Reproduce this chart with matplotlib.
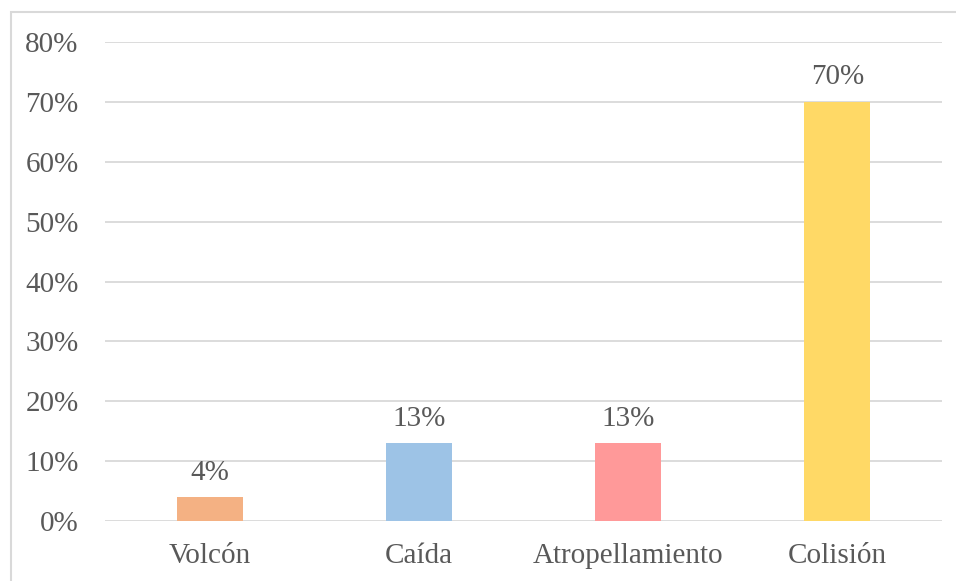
import matplotlib.pyplot as plt
from matplotlib.patches import Rectangle
from matplotlib.ticker import FuncFormatter

categories = ['Volcón', 'Caída', 'Atropellamiento', 'Colisión']
values = [4, 13, 13, 70]
labels = ['4%', '13%', '13%', '70%']
colors = ['#F4B183', '#9DC3E6', '#FF9999', '#FFD966']

plt.rcParams['font.family'] = ['Liberation Serif', 'DejaVu Serif']
text_color = '#595959'

fig = plt.figure(figsize=(9.56, 5.81), dpi=100)
ax = fig.add_axes([105 / 956, 60 / 581, 837 / 956, 479 / 581])

# Outer chart border (cut off at right and bottom)
fig.patches.append(Rectangle((11 / 956, -0.05), 1.2, (581 - 12) / 581 + 0.05,
                             transform=fig.transFigure, fill=False,
                             edgecolor='#d9d9d9', linewidth=1.5))

x = range(len(categories))
ax.bar(x, values, width=0.316, color=colors, zorder=3)
for i, (v, lab) in enumerate(zip(values, labels)):
    ax.text(i, v + 1.9, lab, ha='center', va='bottom', fontsize=21, color=text_color)

ax.set_xlim(-0.5, len(categories) - 0.5)
ax.set_ylim(0, 80)
ax.set_yticks(range(0, 81, 10))
ax.yaxis.set_major_formatter(FuncFormatter(lambda v, p: f'{v:.0f}%'))
ax.set_xticks(list(x))
ax.set_xticklabels(categories)
ax.tick_params(axis='both', length=0, labelsize=21, colors=text_color)
ax.tick_params(axis='y', pad=19)
ax.tick_params(axis='x', pad=16)
ax.grid(axis='y', color='#d9d9d9', linewidth=1.3, zorder=0)
for s in ax.spines.values():
    s.set_visible(False)

fig.savefig('out.png', dpi=100)
